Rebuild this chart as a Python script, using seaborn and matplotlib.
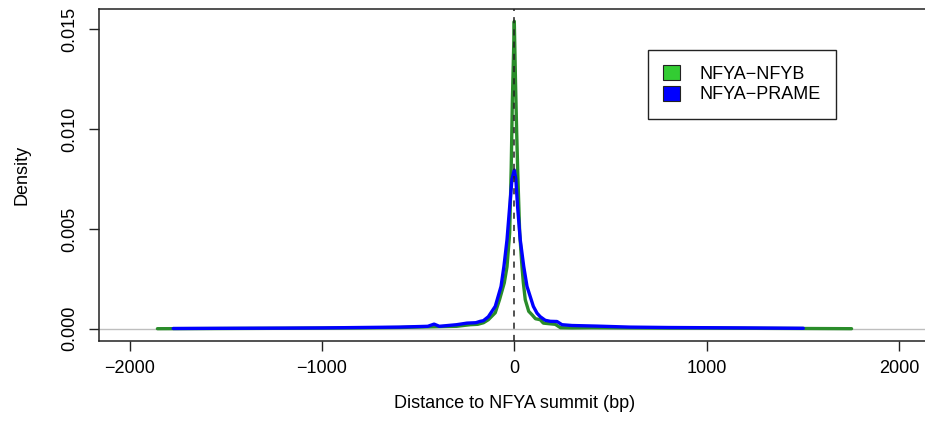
import pandas as pd
import matplotlib
matplotlib.use("Agg")
import matplotlib.pyplot as plt
import matplotlib.patches as mpatches
import seaborn as sns

# distance to NFYA summit (bp) and density
nfyb_x = [-1856, -1500, -1200, -1000, -800, -600, -500, -400, -300, -229,
          -190, -160, -135, -99, -77, -52, -38, -24, -16, -10, -6, 0,
          6, 12, 18, 28, 40, 47, 57, 75, 92, 110, 135, 151, 180, 213,
          240, 300, 400, 600, 800, 1000, 1200, 1500, 1754]
nfyb_y = [0.00000, 0.00001, 0.00002, 0.00003, 0.00004, 0.00006, 0.00008,
          0.00010, 0.00012, 0.00020, 0.00022, 0.00030, 0.00045, 0.00080,
          0.00145, 0.00230, 0.00310, 0.00480, 0.00810, 0.01145, 0.01300,
          0.01540, 0.01250, 0.01000, 0.00780, 0.00480, 0.00310, 0.00230,
          0.00145, 0.00087, 0.00070, 0.00050, 0.00045, 0.00028, 0.00025,
          0.00022, 0.00005, 0.00004, 0.00005, 0.00004, 0.00003, 0.00003,
          0.00002, 0.00001, 0.00000]

prame_x = [-1774, -1500, -1200, -1000, -800, -600, -450, -417, -390, -300,
           -246, -200, -177, -161, -135, -99, -69, -54, -38, -24, -12, 0,
           8, 17, 31, 49, 66, 99, 118, 135, 161, 187, 222, 248, 300, 430,
           600, 800, 1000, 1200, 1503]
prame_y = [0.00001, 0.00002, 0.00003, 0.00004, 0.00006, 0.00008, 0.00012,
           0.00023, 0.00012, 0.00020, 0.00028, 0.00030, 0.00037, 0.00040,
           0.00060, 0.00112, 0.00212, 0.00312, 0.00445, 0.00612, 0.00750,
           0.00795, 0.00750, 0.00612, 0.00445, 0.00312, 0.00212, 0.00112,
           0.00078, 0.00060, 0.00042, 0.00037, 0.00036, 0.00020, 0.00016,
           0.00013, 0.00008, 0.00006, 0.00005, 0.00004, 0.00002]

labels = ["NFYA\u2212NFYB", "NFYA\u2212PRAME"]
line_colors = ["#2a8c2a", "#0000ff"]
fill_colors = ["#33cc33", "#0000ff"]

df = pd.concat([
    pd.DataFrame({"x": nfyb_x, "y": nfyb_y, "pair": labels[0]}),
    pd.DataFrame({"x": prame_x, "y": prame_y, "pair": labels[1]}),
])

sns.set_style("ticks")
plt.rcParams["font.family"] = ["Liberation Sans", "DejaVu Sans"]
plt.rcParams["text.color"] = "black"
plt.rcParams["axes.labelcolor"] = "black"
plt.rcParams["xtick.color"] = "black"
plt.rcParams["ytick.color"] = "black"

fig = plt.figure(figsize=(9.25, 4.37), dpi=100)
ax = fig.add_axes([0.107, 0.2197, 0.898, 0.7597])

ax.axhline(0, color="#bebebe", lw=1, zorder=1)
sns.lineplot(data=df, x="x", y="y", hue="pair", palette=line_colors,
             lw=2.4, legend=False, ax=ax, zorder=3)
ax.axvline(0, color="#222222", lw=1.1, ls=(0, (4, 4)), zorder=4)

ax.set_xlim(-2160, 2160)
ax.set_ylim(-0.000616, 0.016016)
ax.set_xticks([-2000, -1000, 0, 1000, 2000])
ax.set_xticklabels(["\u22122000", "\u22121000", "0", "1000", "2000"])
ax.set_yticks([0, 0.005, 0.010, 0.015])
ax.set_yticklabels(["0.000", "0.005", "0.010", "0.015"])
for lab in ax.get_yticklabels():
    lab.set_rotation(90)
    lab.set_va("center")
ax.tick_params(length=7, width=1, color="#222222", labelsize=13)
ax.tick_params(axis="x", pad=7)
ax.tick_params(axis="y", pad=8)

for s in ax.spines.values():
    s.set_visible(True)
    s.set_linewidth(1.1)
    s.set_color("#222222")

ax.set_xlabel("Distance to NFYA summit (bp)", fontsize=13, labelpad=13)
ax.set_ylabel("Density", fontsize=13, labelpad=22)

handles = [mpatches.Patch(facecolor=c, edgecolor="#222222", lw=0.8, label=l)
           for c, l in zip(fill_colors, labels)]
leg = ax.legend(handles=handles, loc="upper left",
                bbox_to_anchor=(0.661, 0.877), fontsize=13, frameon=True,
                fancybox=False, edgecolor="#222222", framealpha=1,
                handlelength=0.9, handleheight=0.9, handletextpad=1.1,
                borderpad=0.85, labelspacing=0.15, borderaxespad=0)
leg.get_frame().set_linewidth(1)

fig.savefig("out.png", dpi=100)
